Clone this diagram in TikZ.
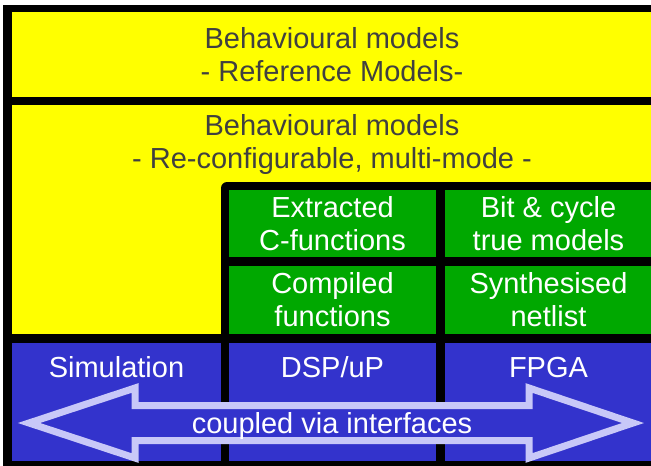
\documentclass[tikz,border=0pt]{standalone}
\usepackage{fontspec}
\setmainfont{Liberation Sans}
\usetikzlibrary{positioning}
\definecolor{cyel}{HTML}{FFFF00}
\definecolor{cgrn}{HTML}{00A800}
\definecolor{cblu}{HTML}{3333CC}
\definecolor{carr}{HTML}{C8C8F8}
\definecolor{ctxt}{HTML}{404040}
\tikzset{
  cell/.style={rectangle, inner sep=0pt, outer sep=0pt, align=center,
               font=\fontsize{29}{33}\selectfont},
  nyel/.style={cell, fill=cyel, text=ctxt, minimum width=640pt},
  ngrn/.style={cell, fill=cgrn, text=white, minimum width=207pt},
  nblu/.style={cell, fill=cblu, text=white, minimum width=207pt, minimum height=118pt},
  toplbl/.style={cell, anchor=north},
  coupling/.style={draw=carr, fill=cblu, line width=7pt, line join=miter},
}
\begin{document}
\begin{tikzpicture}[x=1pt, y=-1pt, node distance=9pt]
  \useasboundingbox (0,0) rectangle (651,466);
  \fill[black] (3,5) rectangle (670,480);
  % yellow layers
  \node[nyel, minimum height=85pt, anchor=north west] (ref) at (12,12)
       {Behavioural models\\- Reference Models-};
  \node[nyel, minimum height=229pt, below=8pt of ref,
        label={[toplbl, text=ctxt, inner sep=9pt]north:{Behavioural models\\- Re-configurable, multi-mode -}}] (multi) {};
  % green block
  \fill[black, rounded corners=6pt] (221,182) rectangle (680,343);
  \node[ngrn, minimum height=67pt, anchor=north west] (extr) at (229,190) {Extracted\\C-functions};
  \node[ngrn, minimum height=67pt, right=of extr] (bitc) {Bit \& cycle\\true models};
  \node[ngrn, minimum height=68pt, below=of extr] (comp) {Compiled\\functions};
  \node[ngrn, minimum height=68pt, right=of comp] (synt) {Synthesised\\netlist};
  % blue platforms
  \node[nblu, below=of comp,
        label={[toplbl, text=white, text height=21pt, inner sep=13pt]north:DSP/uP}] (dsp) {};
  \node[nblu, right=of dsp,
        label={[toplbl, text=white, text height=21pt, inner sep=13pt]north:FPGA}] (fpga) {};
  \node[nblu, minimum width=209pt, left=8pt of dsp,
        label={[toplbl, text=white, text height=21pt, inner sep=13pt]north:Simulation}] (sim) {};
  % double arrow
  \draw[coupling] (29,423) -- (135,388) -- (135,405.5) -- (529,405.5) -- (529,388)
     -- (633,423) -- (529,458) -- (529,440.5) -- (135,440.5) -- (135,458) -- cycle;
  \node[cell, text=white, anchor=base] (cpl) at (332,433) {coupled via interfaces};
\end{tikzpicture}
\end{document}
